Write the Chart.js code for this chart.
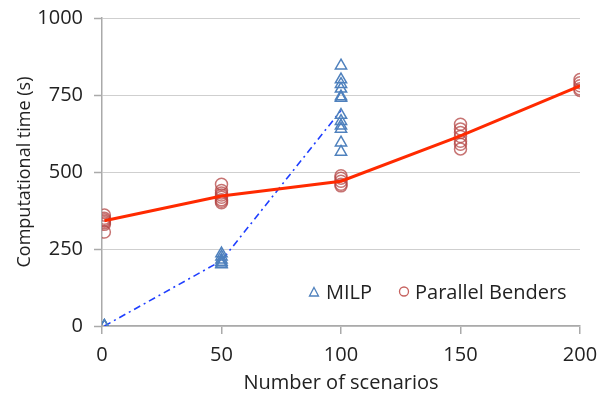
<!DOCTYPE html>
<html><head><meta charset="utf-8">
<script src="https://cdn.jsdelivr.net/npm/chart.js@4/dist/chart.umd.min.js"></script>
<style>html,body{margin:0;padding:0;background:#fff}#wrap{width:597px;height:396px}</style>
</head><body><div id="wrap"><canvas id="c" width="597" height="396"></canvas></div>
<script>
const xTicks = [0, 50, 100, 150, 200];
const yTicks = [0, 250, 500, 750, 1000];
// MILP runs
const milpX = [1,1,1, 50,50,50,50,50,50, 100,100,100,100,100,100,100,100,100,100,100,100];
const milpY = [0,0,0, 235,225,215,208,202,200, 845,800,785,770,745,740,685,665,650,640,595,565];
// MILP mean line
const milpLineX = [1, 50, 100];
const milpLineY = [0, 212, 700];
// Parallel Benders runs
const pbX = [1,1,1,1,1,1,1, 50,50,50,50,50,50,50,50, 100,100,100,100,100, 150,150,150,150,150,150,150, 200,200,200,200,200];
const pbY = [360,350,345,340,335,330,305, 460,440,432,425,418,410,405,400, 488,480,470,460,455, 655,640,628,615,600,590,575, 800,790,780,770,765];
// Parallel Benders mean line
const pbLineX = [1, 50, 100, 150, 200];
const pbLineY = [342, 422, 470, 617, 780];

const pts = (xs, ys) => xs.map((x, i) => ({x, y: ys[i]}));
const FONT = "'Open Sans', sans-serif";

const legendPlugin = {
  id: 'inLegend',
  afterDraw(chart) {
    const ctx = chart.ctx;
    ctx.save();
    ctx.font = "20px " + FONT;
    ctx.fillStyle = '#222';
    ctx.textBaseline = 'middle';
    const y = 293;
    ctx.strokeStyle = '#4f81bd'; ctx.lineWidth = 1.3;
    ctx.beginPath(); ctx.moveTo(314, 287.5); ctx.lineTo(318.5, 296); ctx.lineTo(309.5, 296); ctx.closePath(); ctx.stroke();
    ctx.fillText('MILP', 326, y);
    ctx.strokeStyle = 'rgba(192,80,77,0.9)';
    ctx.beginPath(); ctx.arc(404, 291.5, 4.5, 0, Math.PI * 2); ctx.stroke();
    ctx.fillText('Parallel Benders', 415, y);
    ctx.restore();
  }
};

const noPad = s => { s.paddingTop = 0; s.paddingBottom = 0; s.paddingLeft = 0; s.paddingRight = 0; };

new Chart(document.getElementById('c'), {
  type: 'scatter',
  data: {
    datasets: [
      { label: 'MILP line', type: 'line', data: pts(milpLineX, milpLineY), borderColor: '#1f3fff', borderWidth: 1.6,
        borderDash: [7, 4, 2, 4], pointRadius: 0, fill: false, order: 3 },
      { label: 'MILP', data: pts(milpX, milpY), pointStyle: 'triangle', pointRadius: 6.5, borderColor: '#4f81bd',
        backgroundColor: 'rgba(0,0,0,0)', pointBorderWidth: 1.5, order: 2 },
      { label: 'Parallel Benders', data: pts(pbX, pbY), pointStyle: 'circle', pointRadius: 6, borderColor: 'rgba(180,70,68,0.75)',
        backgroundColor: 'rgba(0,0,0,0)', pointBorderWidth: 1.5, order: 1 },
      { label: 'PB line', type: 'line', data: pts(pbLineX, pbLineY), borderColor: '#ff2a00', borderWidth: 3,
        pointRadius: 0, fill: false, order: 0 }
    ]
  },
  options: {
    responsive: false, animation: false,
    layout: { padding: { top: 18, right: 17, left: 0, bottom: 0 } },
    plugins: { legend: { display: false }, tooltip: { enabled: false } },
    scales: {
      x: { type: 'linear', min: 0, max: 200,
        afterBuildTicks: s => { s.ticks = xTicks.map(v => ({value: v})); },
        afterFit: s => { s.height = 70; noPad(s); },
        ticks: { color: '#222', font: { family: FONT, size: 20 }, padding: 9 },
        grid: { drawOnChartArea: false, drawTicks: true, tickLength: 8, color: '#aaa', lineWidth: 1.5 },
        border: { color: '#aaa', width: 1.5 },
        title: { display: true, text: 'Number of scenarios', color: '#222', font: { family: FONT, size: 20 }, padding: { top: 0, bottom: 1 } }
      },
      y: { min: 0, max: 1000,
        afterBuildTicks: s => { s.ticks = yTicks.map(v => ({value: v})); },
        afterFit: s => { s.width = 102; noPad(s); },
        ticks: { color: '#222', font: { family: FONT, size: 20 }, padding: 11, callback: v => String(v) },
        grid: { drawTicks: true, tickLength: 8, color: '#cfcfcf', lineWidth: 1, borderDash: [3, 2],
          tickColor: '#aaa', tickWidth: 1.5, tickBorderDash: [] },
        border: { color: '#aaa', width: 1.5 },
        title: { display: true, text: 'Computational time (s)', color: '#222', font: { family: FONT, size: 18 }, padding: { top: 14, bottom: 2 } }
      }
    }
  },
  plugins: [legendPlugin]
});
</script></body></html>
